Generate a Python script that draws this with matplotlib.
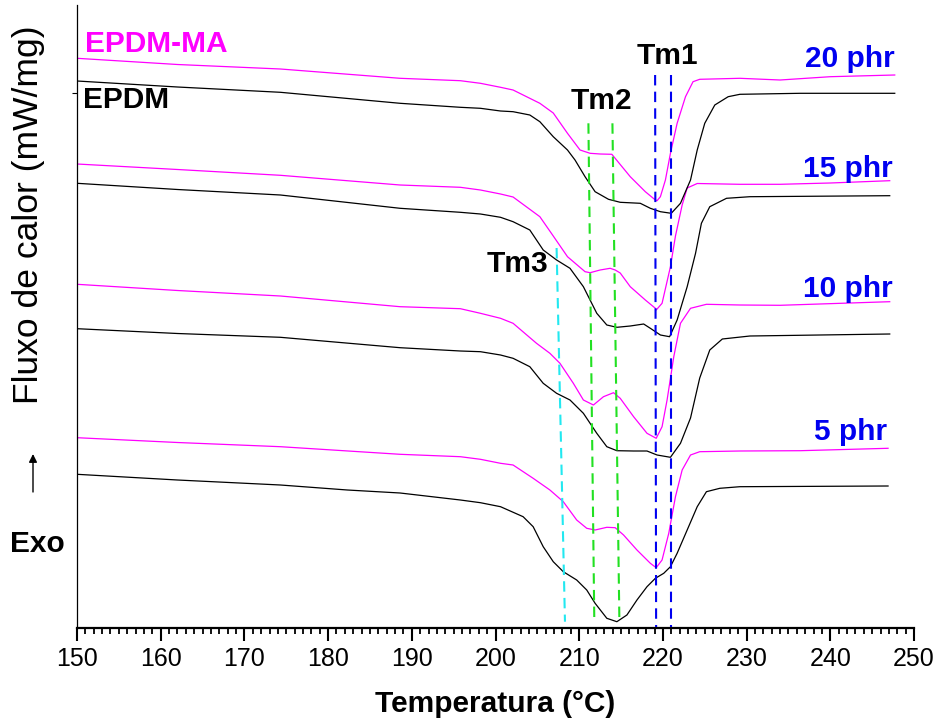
import matplotlib
matplotlib.use("Agg")
import matplotlib.pyplot as plt
from matplotlib.ticker import MultipleLocator

plt.rcParams['font.family'] = ['Liberation Sans', 'DejaVu Sans']

# DSC heating curves (temperature in °C, heat flow in mW/mg, vertically offset)
T_MA20 = [150.0, 162.0, 174.3, 188.6, 195.8, 198.2, 200.6, 202.1, 205.3, 206.9, 208.6, 210.1, 211.3, 212.5,
          213.9, 216.1, 217.9, 219.1, 219.3, 219.7, 220.3, 220.9, 221.7, 222.7, 223.6, 224.4, 229.2, 234.0,
          240.0, 247.7]
Q_MA20 = [5.697, 5.635, 5.59, 5.497, 5.473, 5.447, 5.407, 5.38, 5.247, 5.15, 4.947, 4.78, 4.747, 4.74,
          4.737, 4.513, 4.363, 4.28, 4.273, 4.313, 4.48, 4.747, 5.047, 5.313, 5.463, 5.487, 5.497, 5.48,
          5.513, 5.53]

T_EP20 = [150.0, 162.0, 174.3, 188.6, 195.8, 198.2, 200.6, 202.1, 204.1, 205.3, 206.9, 208.6, 209.5, 210.7,
          211.9, 213.5, 214.9, 217.3, 218.5, 219.7, 221.0, 222.1, 223.3, 224.1, 225.0, 226.2, 227.8, 229.2,
          236.4, 247.7]
Q_EP20 = [5.47, 5.41, 5.357, 5.247, 5.207, 5.197, 5.17, 5.163, 5.13, 5.063, 4.913, 4.78, 4.68, 4.513,
          4.363, 4.287, 4.257, 4.247, 4.197, 4.163, 4.147, 4.247, 4.48, 4.78, 5.047, 5.23, 5.313, 5.337,
          5.347, 5.347]

T_MA15 = [150.0, 162.0, 174.3, 188.6, 195.8, 198.2, 200.6, 202.1, 205.3, 206.9, 208.6, 210.7, 211.3, 212.5,
          213.7, 214.3, 214.9, 216.1, 217.9, 219.1, 219.2, 219.9, 220.9, 221.5, 222.3, 222.9, 224.1, 229.2,
          234.0, 240.0, 247.1]
Q_MA15 = [4.64, 4.585, 4.527, 4.43, 4.407, 4.38, 4.34, 4.31, 4.113, 3.92, 3.713, 3.563, 3.553, 3.58,
          3.597, 3.58, 3.55, 3.413, 3.28, 3.197, 3.18, 3.247, 3.613, 3.92, 4.23, 4.40, 4.445, 4.437,
          4.437, 4.45, 4.473]

T_EP15 = [150.0, 162.0, 174.3, 188.6, 195.8, 198.2, 200.6, 202.1, 204.1, 205.7, 207.3, 208.9, 210.5, 212.1,
          213.3, 214.5, 216.1, 217.7, 218.5, 219.7, 220.8, 221.7, 222.9, 223.9, 224.6, 225.6, 227.6, 230.4,
          247.1]
Q_EP15 = [4.447, 4.385, 4.33, 4.197, 4.157, 4.14, 4.107, 4.063, 3.98, 3.78, 3.68, 3.597, 3.413, 3.147,
          3.03, 3.007, 3.02, 3.04, 2.997, 2.93, 2.913, 3.08, 3.413, 3.747, 4.047, 4.213, 4.297, 4.313,
          4.323]

T_MA10 = [150.0, 162.0, 174.3, 188.6, 195.8, 198.2, 200.6, 202.1, 204.9, 206.5, 207.7, 209.3, 210.5, 211.7,
          212.9, 214.1, 214.9, 216.5, 218.1, 219.2, 219.9, 220.5, 221.3, 222.1, 223.3, 225.2, 229.2, 234.0,
          247.1]
Q_MA10 = [3.437, 3.375, 3.32, 3.213, 3.193, 3.147, 3.097, 3.047, 2.847, 2.747, 2.647, 2.447, 2.28, 2.23,
          2.313, 2.353, 2.297, 2.113, 1.947, 1.897, 2.013, 2.28, 2.713, 3.047, 3.197, 3.237, 3.23, 3.227,
          3.263]

T_EP10 = [150.0, 162.0, 174.3, 188.6, 195.8, 198.2, 200.6, 202.1, 204.1, 205.7, 207.3, 208.9, 210.5, 212.1,
          213.3, 214.5, 216.5, 218.1, 219.3, 220.9, 222.1, 223.3, 224.4, 225.6, 227.1, 230.4, 247.1]
Q_EP10 = [2.993, 2.945, 2.907, 2.803, 2.77, 2.763, 2.73, 2.697, 2.613, 2.447, 2.347, 2.28, 2.147, 1.947,
          1.813, 1.773, 1.77, 1.77, 1.73, 1.707, 1.847, 2.10, 2.50, 2.78, 2.89, 2.92, 2.94]

T_MA5 = [150.0, 162.0, 174.3, 188.6, 195.8, 198.2, 200.6, 202.1, 204.5, 206.5, 208.1, 209.7, 210.9, 211.9,
         213.3, 214.3, 215.3, 216.9, 218.5, 219.2, 219.9, 220.7, 221.5, 222.3, 223.3, 224.4, 229.2, 236.4,
         246.9]
Q_MA5 = [1.903, 1.855, 1.813, 1.737, 1.713, 1.687, 1.647, 1.63, 1.497, 1.38, 1.263, 1.08, 0.997, 0.98,
         1.007, 1.003, 0.93, 0.78, 0.647, 0.603, 0.68, 0.947, 1.313, 1.58, 1.73, 1.763, 1.77, 1.773,
         1.797]

T_EP5 = [150.0, 162.0, 174.3, 182.3, 188.6, 195.8, 198.2, 200.6, 203.3, 204.5, 205.7, 206.9, 208.1, 209.7,
         210.9, 211.9, 213.3, 214.5, 215.7, 216.9, 218.1, 219.1, 220.1, 220.9, 221.7, 222.9, 224.1, 225.2,
         226.8, 229.2, 246.9]
Q_EP5 = [1.537, 1.48, 1.43, 1.38, 1.35, 1.28, 1.253, 1.213, 1.113, 1.013, 0.813, 0.663, 0.563, 0.48,
         0.38, 0.247, 0.097, 0.063, 0.13, 0.28, 0.413, 0.497, 0.547, 0.613, 0.747, 0.98, 1.213, 1.363,
         1.397, 1.413, 1.42]

# Melting-peak guide lines: (T_top, T_bottom), (Q_top, Q_bottom)
TM3_T, TM3_Q = [207.3, 208.3], [3.80, 0.063]
TM2A_T, TM2A_Q = [211.1, 211.8], [5.047, 0.10]
TM2B_T, TM2B_Q = [213.97, 214.8], [5.047, 0.08]
TM1A_T, TM1A_Q = [219.07, 219.19], [5.53, 0.0]
TM1B_T, TM1B_Q = [220.94, 220.94], [5.53, 0.0]

LOADINGS = ["20 phr", "15 phr", "10 phr", "5 phr"]
LOADING_POS = [(247.7, 5.61), (247.5, 4.51), (247.5, 3.31), (246.8, 1.88)]

MAGENTA = "#FF00FF"
BLUE = "#0000F0"
GREEN = "#22E022"
CYAN = "#22E8F0"

fig = plt.figure(figsize=(9.38, 7.25), dpi=100)
ax = fig.add_axes([77 / 938, 97 / 725, (914 - 77) / 938, (628 - 5) / 725])

for T, Q in [(T_MA20, Q_MA20), (T_MA15, Q_MA15), (T_MA10, Q_MA10), (T_MA5, Q_MA5)]:
    ax.plot(T, Q, color=MAGENTA, lw=0.9, solid_joinstyle="round")
for T, Q in [(T_EP20, Q_EP20), (T_EP15, Q_EP15), (T_EP10, Q_EP10), (T_EP5, Q_EP5)]:
    ax.plot(T, Q, color="black", lw=0.9, solid_joinstyle="round")

dash = dict(lw=1.5, dashes=(5, 3))
ax.plot(TM3_T, TM3_Q, color=CYAN, **dash)
ax.plot(TM2A_T, TM2A_Q, color=GREEN, **dash)
ax.plot(TM2B_T, TM2B_Q, color=GREEN, **dash)
ax.plot(TM1A_T, TM1A_Q, color=BLUE, **dash)
ax.plot(TM1B_T, TM1B_Q, color=BLUE, **dash)

ax.set_xlim(150, 250)
ax.set_ylim(0, 6.23)
ax.xaxis.set_major_locator(MultipleLocator(10))
ax.xaxis.set_minor_locator(MultipleLocator(1))
ax.tick_params(axis="x", which="major", length=9.5, width=1.5, direction="out", labelsize=18, pad=4)
ax.tick_params(axis="x", which="minor", length=4.5, width=1.3, direction="out")
ax.set_yticks([5.35])
ax.set_yticklabels([])
ax.tick_params(axis="y", which="major", length=3.5, width=0.8, direction="out")

for s in ["top", "right"]:
    ax.spines[s].set_visible(False)
ax.spines["bottom"].set_linewidth(1.6)
ax.spines["left"].set_linewidth(0.9)

ax.set_xlabel("Temperatura (°C)", fontsize=21.5, fontweight="bold", labelpad=14)

bold = dict(fontweight="bold", fontsize=21.5)
ax.text(151.0, 5.84, "EPDM-MA", color=MAGENTA, ha="left", va="center", **bold)
ax.text(150.75, 5.28, "EPDM", color="black", ha="left", va="center", **bold)
ax.text(220.6, 5.72, "Tm1", color="black", ha="center", va="center", **bold)
ax.text(212.7, 5.27, "Tm2", color="black", ha="center", va="center", **bold)
ax.text(202.6, 3.64, "Tm3", color="black", ha="center", va="center", **bold)
for label, (tx, qy) in zip(LOADINGS, LOADING_POS):
    ax.text(tx, qy, label, color=BLUE, ha="right", va="baseline", **bold)

# Y-axis title and exothermic direction arrow
fig.text(29 / 938, 1 - 215 / 725, "Fluxo de calor (mW/mg)", rotation=90,
         ha="center", va="center", fontsize=25.5)
fig.text(37 / 938, 1 - 544 / 725, "Exo", ha="center", va="center", **bold)
ax.annotate("", xy=(33, 725 - 454), xytext=(33, 725 - 492), xycoords="figure pixels",
            textcoords="figure pixels", annotation_clip=False,
            arrowprops=dict(arrowstyle="-|>", lw=1.0, color="black",
                            shrinkA=0, shrinkB=0, mutation_scale=12))

fig.savefig("out.png", dpi=100)
